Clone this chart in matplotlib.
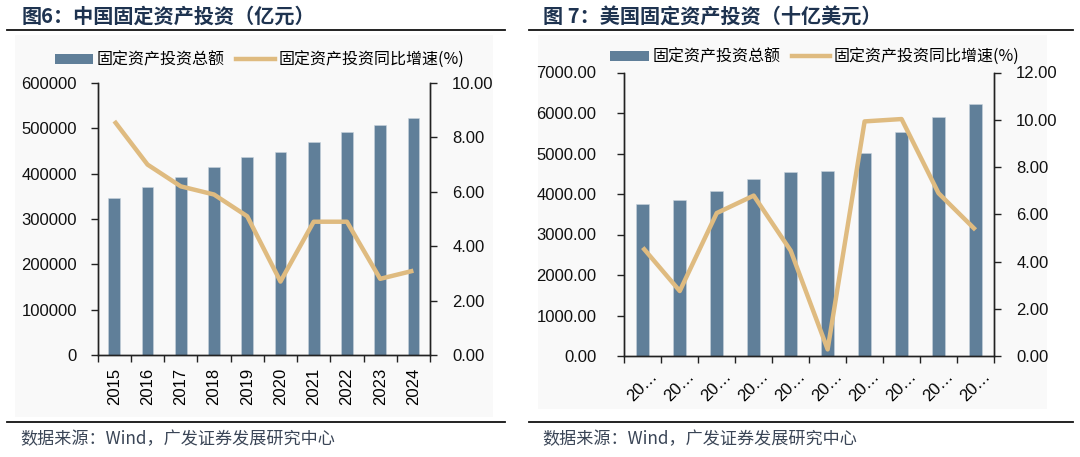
import matplotlib
matplotlib.use("Agg")
import matplotlib.pyplot as plt
from matplotlib.patches import Rectangle, Patch
from matplotlib.lines import Line2D
from matplotlib.ticker import FuncFormatter, MultipleLocator

plt.rcParams['font.family'] = ['Liberation Sans', 'Noto Sans CJK SC', 'DejaVu Sans']

# ---------------- data ----------------
cn_years = ['2015', '2016', '2017', '2018', '2019', '2020', '2021', '2022', '2023', '2024']
cn_total = [345700, 369900, 392600, 415400, 436800, 447800, 469200, 491900, 506700, 522100]
cn_growth = [8.6, 7.0, 6.2, 5.9, 5.1, 2.7, 4.9, 4.9, 2.8, 3.1]

us_years = ['2015', '2016', '2017', '2018', '2019', '2020', '2021', '2022', '2023', '2024']
us_labels = ['20…'] * len(us_years)
us_total = [3745, 3852, 4074, 4362, 4543, 4560, 5012, 5523, 5893, 6222]
us_growth = [4.59, 2.75, 6.05, 6.79, 4.46, 0.28, 9.93, 10.03, 6.89, 5.34]

title_left = '图6：中国固定资产投资（亿元）'
title_right = '图 7：美国固定资产投资（十亿美元）'
legend_bar = '固定资产投资总额'
legend_line = '固定资产投资同比增速(%)'
source = '数据来源：Wind，广发证券发展研究中心'

BAR = '#607f99'
LINE = '#dfbb80'
NAVY = '#1e3350'
SPINE = '#222222'

W, H = 1080, 457
fig = plt.figure(figsize=(W / 100, H / 100), dpi=100)
fig.patch.set_facecolor('white')


def fx(px):
    return px / W


def fy(py):
    return 1 - py / H


# chart background boxes
fig.patches.append(Rectangle((fx(15), fy(417)), fx(493 - 15), (417 - 35) / H,
                             transform=fig.transFigure, facecolor='#f9f9f9', edgecolor='none', zorder=-5))
fig.patches.append(Rectangle((fx(538), fy(409)), fx(1047 - 538), (409 - 35) / H,
                             transform=fig.transFigure, facecolor='#f9f9f9', edgecolor='none', zorder=-5))

# titles and rules
fig.text(fx(22), fy(16), title_left, fontsize=14.5, fontweight='bold', color=NAVY,
         family=['Noto Sans CJK SC'], va='center', ha='left')
fig.text(fx(543), fy(16), title_right, fontsize=14.5, fontweight='bold', color=NAVY,
         family=['Noto Sans CJK SC', 'DejaVu Sans'], va='center', ha='left')
for x0, x1 in [(7, 505), (529, 1073)]:
    fig.add_artist(Line2D([fx(x0), fx(x1)], [fy(30), fy(30)], color='#111111', lw=1.3))
    fig.add_artist(Line2D([fx(x0), fx(x1)], [fy(421.7), fy(421.7)], color='#111111', lw=1.3))
fig.text(fx(20), fy(439), source, fontsize=12.3, color='#3a4556',
         family=['Noto Sans CJK SC'], va='center', ha='left')
fig.text(fx(542), fy(439), source, fontsize=12.3, color='#3a4556',
         family=['Noto Sans CJK SC'], va='center', ha='left')


def style_axes(ax, ax2):
    for a in (ax, ax2):
        a.set_facecolor('none')
        a.spines['top'].set_visible(False)
        for s in ('left', 'right', 'bottom'):
            a.spines[s].set_color(SPINE)
            a.spines[s].set_linewidth(1.0)
    ax.tick_params(axis='both', colors=SPINE, labelcolor='#111111', labelsize=12, length=5, width=1)
    ax2.tick_params(axis='y', colors=SPINE, labelcolor='#111111', labelsize=12, length=5, width=1)


def draw(ax_rect, xlabels, totals, growth, ymax, ystep, y2max, y2step, lfmt, rot,
         lpad, rpad, legend_xy):
    ax = fig.add_axes(ax_rect)
    ax2 = ax.twinx()
    x = list(range(len(xlabels)))
    ax.bar(x, totals, width=0.35, color=BAR, edgecolor='#c8d3dd', linewidth=0.4, zorder=2)
    ax2.plot(x, growth, color=LINE, lw=3.2, solid_capstyle='butt', zorder=3)
    ax.set_xlim(-0.5, len(xlabels) - 0.5)
    ax.set_ylim(0, ymax)
    ax2.set_ylim(0, y2max)
    ax.yaxis.set_major_locator(MultipleLocator(ystep))
    ax2.yaxis.set_major_locator(MultipleLocator(y2step))
    ax.yaxis.set_major_formatter(FuncFormatter(lfmt))
    ax2.yaxis.set_major_formatter(FuncFormatter(lambda v, p: f'{v:.2f}'))
    # ticks at category boundaries, labels at centers
    ax.set_xticks([i - 0.5 for i in range(len(xlabels) + 1)])
    ax.set_xticklabels([''] * (len(xlabels) + 1))
    ax.set_xticks(x, minor=True)
    if rot == 90:
        ax.set_xticklabels(xlabels, minor=True, rotation=90, ha='center', va='top')
    else:
        ax.set_xticklabels(xlabels, minor=True, rotation=45, ha='center', va='top')
    ax.tick_params(axis='x', which='minor', length=0, pad=9, labelsize=12)
    style_axes(ax, ax2)
    ax.tick_params(axis='y', pad=lpad)
    ax2.tick_params(axis='y', pad=rpad)
    ax.tick_params(axis='x', which='major', length=5)
    handles = [Patch(facecolor=BAR, edgecolor='none'),
               Line2D([0], [0], color=LINE, lw=3.2)]
    fig.legend(handles, [legend_bar, legend_line], loc='center',
               bbox_to_anchor=legend_xy, ncol=2, frameon=False,
               prop={'family': ['Noto Sans CJK SC', 'Liberation Sans'], 'size': 11.5},
               handlelength=2.4, handleheight=0.65, handletextpad=0.25, columnspacing=0.7,
               borderpad=0, borderaxespad=0)
    return ax, ax2


draw([fx(97.7), 1 - 355 / H, fx(430 - 97.7), 272 / H], cn_years, cn_total, cn_growth,
     600000, 100000, 10, 2, lambda v, p: f'{int(v)}', 90, 10, 11,
     (fx(259.5), fy(60)))

draw([fx(624.3), 1 - 356 / H, fx(994 - 624.3), (356 - 72.5) / H], us_labels, us_total, us_growth,
     7000, 1000, 12, 2, lambda v, p: f'{v:.2f}', 45, 15, 11,
     (fx(815), fy(57)))

fig.savefig('out.png', dpi=100)
